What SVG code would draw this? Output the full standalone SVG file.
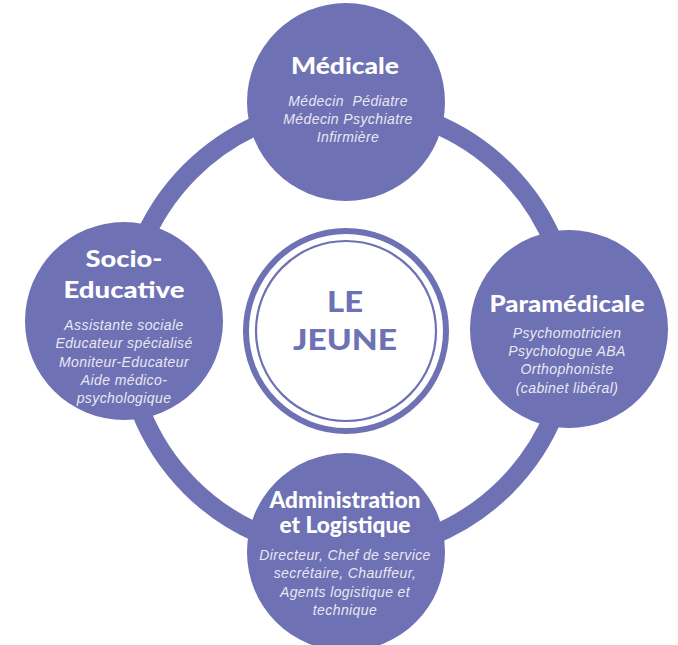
<svg xmlns="http://www.w3.org/2000/svg" width="678" height="645" viewBox="0 0 678 645">
<style>
.ring{fill:none;stroke:#6E71B4;stroke-width:19}
.node{fill:#6E71B4}
.title{font-family:Lato,"Open Sans",sans-serif;font-weight:900;fill:#FFFFFF;text-anchor:middle;font-size:22px}
.sub{font-family:"Liberation Sans",Arial,sans-serif;font-style:italic;font-weight:400;fill:#E8E8F2;text-anchor:middle;font-size:14px;letter-spacing:0.4px}
.center{font-family:Lato,"Open Sans",sans-serif;font-weight:900;fill:#6E71B4;text-anchor:middle;font-size:29px}
</style>
<rect width="678" height="645" fill="#FFFFFF"/>
<g id="connectors">
<circle class="ring" cx="348" cy="329" r="223"/>
</g>
<g id="le-jeune">
<circle cx="346" cy="331" r="100" fill="#FFFFFF" stroke="#6E71B4" stroke-width="6"/>
<circle cx="346" cy="331" r="90" fill="none" stroke="#6E71B4" stroke-width="2.2"/>
<text class="center" x="345" y="312" textLength="36" lengthAdjust="spacingAndGlyphs">LE</text>
<text class="center" x="345" y="350" textLength="104" lengthAdjust="spacingAndGlyphs">JEUNE</text>
</g>
<g id="medicale">
<circle class="node" cx="346" cy="102" r="99"/>
<text class="title" x="345" y="74" textLength="108" lengthAdjust="spacingAndGlyphs">Médicale</text>
<text class="sub" x="348" y="106" xml:space="preserve">Médecin  Pédiatre</text>
<text class="sub" x="348" y="124">Médecin Psychiatre</text>
<text class="sub" x="348" y="142">Infirmière</text>
</g>
<g id="paramedicale">
<circle class="node" cx="569" cy="329" r="99"/>
<text class="title" x="567" y="312" textLength="155" lengthAdjust="spacingAndGlyphs">Paramédicale</text>
<text class="sub" x="567" y="338">Psychomotricien</text>
<text class="sub" x="567" y="356">Psychologue ABA</text>
<text class="sub" x="567" y="374">Orthophoniste</text>
<text class="sub" x="567" y="393">(cabinet libéral)</text>
</g>
<g id="administration">
<circle class="node" cx="346" cy="552" r="99"/>
<text class="title" x="345" y="508" textLength="151" lengthAdjust="spacingAndGlyphs">Administration</text>
<text class="title" x="345" y="533" textLength="131" lengthAdjust="spacingAndGlyphs">et Logistique</text>
<text class="sub" x="345" y="560">Directeur, Chef de service</text>
<text class="sub" x="345" y="578">secrétaire, Chauffeur,</text>
<text class="sub" x="345" y="597">Agents logistique et</text>
<text class="sub" x="345" y="615">technique</text>
</g>
<g id="socio-educative">
<circle class="node" cx="124" cy="321" r="99"/>
<text class="title" x="124" y="267" textLength="77" lengthAdjust="spacingAndGlyphs">Socio-</text>
<text class="title" x="124" y="298" textLength="121" lengthAdjust="spacingAndGlyphs">Educative</text>
<text class="sub" x="124" y="330">Assistante sociale</text>
<text class="sub" x="124" y="348">Educateur spécialisé</text>
<text class="sub" x="124" y="367">Moniteur-Educateur</text>
<text class="sub" x="124" y="385">Aide médico-</text>
<text class="sub" x="124" y="403">psychologique</text>
</g>
</svg>
